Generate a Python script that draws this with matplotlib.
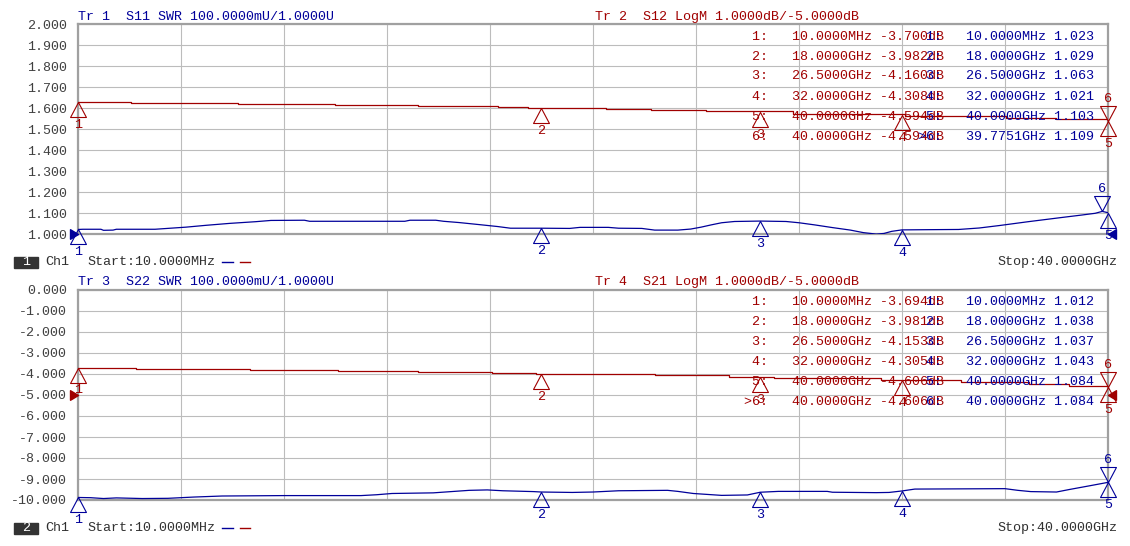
import numpy as np
import matplotlib.pyplot as plt
from matplotlib.lines import Line2D
from matplotlib.patches import Rectangle
from matplotlib.path import Path

# ---- trace data (GHz) ----
s11_freq = [0.01, 0.2, 0.9, 1.0, 1.37, 1.5, 3.0, 3.6, 4.2, 5.0, 5.9, 6.9, 7.5, 8.8, 9.0,
            12.7, 12.9, 13.9, 14.2, 14.8, 15.6, 16.3, 16.8, 18.0, 19.1, 19.5, 20.6, 21.0,
            21.9, 22.4, 23.3, 23.8, 24.2, 24.6, 25.0, 25.5, 26.5, 27.5, 28.0, 28.6, 29.3,
            30.0, 30.5, 31.0, 31.3, 31.6, 32.0, 33.0, 34.2, 35.0, 35.8, 36.9, 38.2, 39.0,
            39.5, 39.7751, 40.0]
s11_swr = [1.023, 1.024, 1.024, 1.019, 1.020, 1.024, 1.024, 1.029, 1.034, 1.043, 1.052,
           1.060, 1.066, 1.067, 1.062, 1.062, 1.067, 1.067, 1.062, 1.056, 1.046, 1.037,
           1.029, 1.029, 1.028, 1.033, 1.033, 1.029, 1.028, 1.020, 1.020, 1.025, 1.034,
           1.045, 1.055, 1.061, 1.063, 1.061, 1.055, 1.045, 1.032, 1.020, 1.008, 1.001,
           1.004, 1.014, 1.021, 1.022, 1.023, 1.030, 1.042, 1.060, 1.080, 1.092, 1.100,
           1.109, 1.103]

s12_freq = [0.01, 2.08, 6.23, 9.98, 13.22, 16.32, 17.49, 20.5, 22.24, 24.4, 27.76, 32.1,
            36.03, 38.0, 40.0]
s12_db = [-3.700, -3.75, -3.80, -3.85, -3.90, -3.95, -3.982, -4.01, -4.07, -4.14, -4.28,
          -4.37, -4.45, -4.52, -4.594]

s22_freq = [0.01, 0.5, 1.0, 1.5, 2.5, 3.5, 4.5, 5.6, 8.0, 11.0, 11.6, 12.2, 13.8, 14.5,
            15.2, 15.9, 16.5, 17.7, 18.0, 19.2, 20.0, 21.0, 22.9, 23.3, 23.9, 25.0, 26.0,
            26.5, 27.2, 29.1, 29.3, 31.0, 31.5, 32.0, 32.5, 36.0, 36.5, 37.0, 38.0, 38.5,
            39.3, 40.0]
s22_swr = [1.012, 1.011, 1.007, 1.010, 1.007, 1.008, 1.014, 1.019, 1.021, 1.021, 1.025,
           1.031, 1.034, 1.040, 1.046, 1.048, 1.044, 1.040, 1.038, 1.036, 1.038, 1.044,
           1.046, 1.041, 1.031, 1.022, 1.024, 1.037, 1.041, 1.041, 1.037, 1.035, 1.036,
           1.043, 1.052, 1.054, 1.046, 1.040, 1.038, 1.050, 1.068, 1.084]

s21_freq = [0.01, 2.28, 6.68, 10.1, 13.2, 16.07, 17.81, 20.5, 22.4, 25.3, 27.05, 31.17,
            34.3, 36.95, 38.5, 40.0]
s21_db = [-3.694, -3.74, -3.79, -3.84, -3.89, -3.94, -3.981, -4.02, -4.07, -4.13, -4.20,
          -4.305, -4.40, -4.48, -4.55, -4.606]

# ---- markers ----
mk_s11_f = [0.01, 18, 26.5, 32, 40, 39.7751]
mk_s11_v = [1.023, 1.029, 1.063, 1.021, 1.103, 1.109]
mk_s12_f = [0.01, 18, 26.5, 32, 40, 40]
mk_s12_v = [-3.700, -3.982, -4.160, -4.308, -4.594, -4.594]
mk_s22_f = [0.01, 18, 26.5, 32, 40, 40]
mk_s22_v = [1.012, 1.038, 1.037, 1.043, 1.084, 1.084]
mk_s21_f = [0.01, 18, 26.5, 32, 40, 40]
mk_s21_v = [-3.694, -3.981, -4.153, -4.305, -4.606, -4.606]

RED = '#a00000'
BLUE = '#00009a'
GRAY = '#404040'
FONT = 'Liberation Mono'
FS = 9.6
W, H = 1130, 546

plt.rcParams['font.family'] = FONT


def fx(px):
    return px / W


def fy(py):
    return 1 - py / H


def fmt_freq(f):
    if f < 1:
        return "%.4fMHz" % (f * 1000)
    return "%.4fGHz" % f


UP = Path([(0, 0), (-0.53, -1), (0.53, -1), (0, 0)], [1, 2, 2, 79])
DOWN = Path([(0, 0), (-0.53, 1), (0.53, 1), (0, 0)], [1, 2, 2, 79])
RIGHT = Path([(0, 0), (-1, 0.6), (-1, -0.6), (0, 0)], [1, 2, 2, 79])
LEFT = Path([(0, 0), (1, 0.6), (1, -0.6), (0, 0)], [1, 2, 2, 79])


def draw_markers(ax, freqs, vals, color):
    for i, (f, v) in enumerate(zip(freqs, vals)):
        n = i + 1
        if n == 6:
            ax.plot(f, v, marker=DOWN, ms=21.6, mfc='none', mec=color, mew=0.8,
                    clip_on=False, zorder=5)
            ax.annotate(str(n), (f, v), xytext=(0, 16), textcoords='offset points',
                        ha='center', va='center', color=color, fontsize=FS,
                        annotation_clip=False)
        else:
            ax.plot(f, v, marker=UP, ms=21.6, mfc='none', mec=color, mew=0.8,
                    clip_on=False, zorder=5)
            ax.annotate(str(n), (f, v), xytext=(0, -16.5), textcoords='offset points',
                        ha='center', va='center', color=color, fontsize=FS,
                        annotation_clip=False)


def table(y0, x0, freqs, vals, color, unit, active=None):
    for i, (f, v) in enumerate(zip(freqs, vals)):
        n = i + 1
        s = "%d:   %s %.3f%s" % (n, fmt_freq(f), v, unit)
        x = x0
        if active == n:
            s = ">" + s
            x = x0 - 8
        fig.text(fx(x), fy(y0 + 20 * i), s, color=color, fontsize=FS,
                 ha='left', va='center', zorder=10)


fig = plt.figure(figsize=(W / 100, H / 100), dpi=100)

panels = [
    dict(top=24.3, yr=(1.0, 2.0), blue=(s11_freq, s11_swr, mk_s11_f, mk_s11_v),
         red=(s12_freq, s12_db, mk_s12_f, mk_s12_v),
         hdr_b="Tr 1  S11 SWR 100.0000mU/1.0000U", hdr_r="Tr 2  S12 LogM 1.0000dB/-5.0000dB",
         ch="1", act_b=6, act_r=None),
    dict(top=290.0, yr=(-10.0, 0.0), blue=(s22_freq, s22_swr, mk_s22_f, mk_s22_v),
         red=(s21_freq, s21_db, mk_s21_f, mk_s21_v),
         hdr_b="Tr 3  S22 SWR 100.0000mU/1.0000U", hdr_r="Tr 4  S21 LogM 1.0000dB/-5.0000dB",
         ch="2", act_b=None, act_r=6),
]

for k, p in enumerate(panels):
    top = p['top']
    ax = fig.add_axes([fx(78), fy(top + 210), 1030 / W, 210 / H])
    lo, hi = p['yr']
    ax.set_xlim(0.01, 40)
    ax.set_ylim(lo, hi)

    if k == 0:
        to_blue = lambda s: np.asarray(s)
        to_red = lambda d: 1.5 + (np.asarray(d) + 5) * 0.1
    else:
        to_blue = lambda s: -10 + (np.asarray(s) - 1) * 10
        to_red = lambda d: np.asarray(d)

    ax.set_xticks(np.linspace(0.01, 40, 11))
    ax.set_xticklabels([])
    ax.set_yticks(np.linspace(lo, hi, 11))
    ax.set_yticklabels(["%.3f" % t for t in np.linspace(lo, hi, 11)])
    ax.tick_params(length=0, pad=8, labelsize=FS, labelcolor=GRAY)
    ax.grid(True, color='#bcbcbc', lw=0.8)
    for sp in ax.spines.values():
        sp.set_color('#a0a0a0')
        sp.set_linewidth(1.6)

    bf, bv, bmf, bmv = p['blue']
    rf, rv, rmf, rmv = p['red']
    ax.plot(rf, to_red(rv), color=RED, lw=0.9, drawstyle='steps-post', zorder=3)
    ax.plot(bf, to_blue(bv), color=BLUE, lw=0.9, zorder=3)

    draw_markers(ax, rmf, to_red(rmv), RED)
    draw_markers(ax, bmf, to_blue(bmv), BLUE)

    # reference arrows
    if k == 0:
        ax.plot(0.01, 1.0, marker=RIGHT, ms=11.5, color=BLUE, clip_on=False, zorder=6)
        ax.plot(40, 1.0, marker=LEFT, ms=11.5, color=BLUE, clip_on=False, zorder=6)
    else:
        ax.plot(0.01, -5.0, marker=RIGHT, ms=11.5, color=RED, clip_on=False, zorder=6)
        ax.plot(40, -5.0, marker=LEFT, ms=11.5, color=RED, clip_on=False, zorder=6)

    # headers
    fig.text(fx(78), fy(top - 7.6), p['hdr_b'], color=BLUE, fontsize=FS, va='center')
    fig.text(fx(595), fy(top - 7.6), p['hdr_r'], color=RED, fontsize=FS, va='center')

    # marker tables
    table(top + 12.2, 752, rmf, rmv, RED, "dB", p['act_r'])
    table(top + 12.2, 926, bmf, bmv, BLUE, "", p['act_b'])

    # channel info line
    yb = top + 238
    fig.add_artist(Rectangle((fx(14), fy(yb + 5.5)), 24 / W, 11 / H,
                             transform=fig.transFigure, color='#333333'))
    fig.text(fx(26), fy(yb), p['ch'], color='white', fontsize=FS, ha='center', va='center')
    fig.text(fx(45), fy(yb), "Ch1", color='#303030', fontsize=FS, va='center')
    fig.text(fx(87), fy(yb), "Start:10.0000MHz", color='#303030', fontsize=FS, va='center')
    fig.text(fx(1117), fy(yb), "Stop:40.0000GHz", color='#303030', fontsize=FS,
             ha='right', va='center')
    fig.add_artist(Line2D([fx(222), fx(233)], [fy(yb), fy(yb)], color=BLUE, lw=1,
                          transform=fig.transFigure))
    fig.add_artist(Line2D([fx(240), fx(250)], [fy(yb), fy(yb)], color=RED, lw=1,
                          transform=fig.transFigure))

plt.savefig("out.png", dpi=100)
